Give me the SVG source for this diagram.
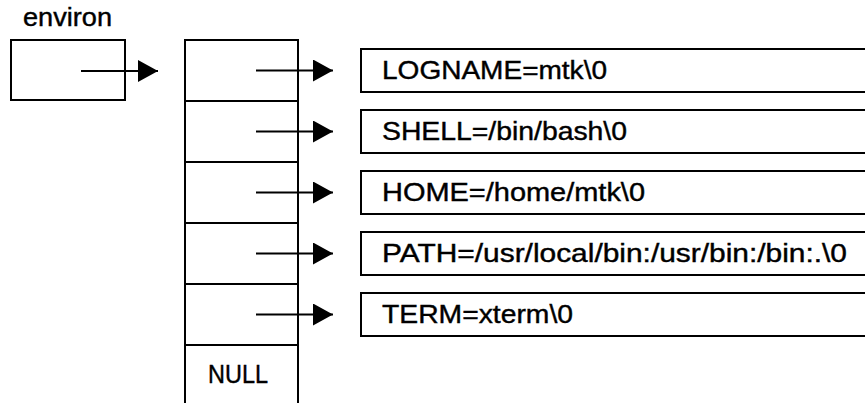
<svg xmlns="http://www.w3.org/2000/svg" width="865" height="403" viewBox="0 0 865 403">
  <style>
    .box { fill: #ffffff; stroke: #000000; stroke-width: 2; }
    .txt { font-family: "Liberation Sans", Arial, sans-serif; font-size: 25px; fill: #000000; stroke: #000000; stroke-width: 0.4; }
    .conn { stroke: #000000; stroke-width: 2.2; fill: none; }
  </style>
  <defs>
    <marker id="arrow" markerUnits="userSpaceOnUse" markerWidth="21" markerHeight="23" refX="20" refY="11" orient="auto">
      <path d="M0,0 L20,11 L0,22 Z" fill="#000000"/>
    </marker>
  </defs>
  <rect width="865" height="403" fill="#ffffff"/>

  <g id="environ">
    <text class="txt" x="23" y="26" textLength="89" lengthAdjust="spacingAndGlyphs">environ</text>
    <rect class="box" x="11" y="40" width="114" height="60"/>
  </g>

  <g id="array">
    <rect class="box" x="185" y="40" width="113" height="61"/>
    <rect class="box" x="185" y="101" width="113" height="61"/>
    <rect class="box" x="185" y="162" width="113" height="61"/>
    <rect class="box" x="185" y="223" width="113" height="61"/>
    <rect class="box" x="185" y="284" width="113" height="61"/>
    <rect class="box" x="185" y="345" width="113" height="70"/>
    <text class="txt" x="208" y="382.5" textLength="60" lengthAdjust="spacingAndGlyphs">NULL</text>
  </g>

  <g id="str-logname">
    <rect class="box" x="361" y="49" width="520" height="43"/>
    <text class="txt" x="382" y="78.5" textLength="225" lengthAdjust="spacingAndGlyphs">LOGNAME=mtk\0</text>
  </g>
  <g id="str-shell">
    <rect class="box" x="361" y="110" width="520" height="43"/>
    <text class="txt" x="382" y="139.5" textLength="245" lengthAdjust="spacingAndGlyphs">SHELL=/bin/bash\0</text>
  </g>
  <g id="str-home">
    <rect class="box" x="361" y="171" width="520" height="43"/>
    <text class="txt" x="382" y="200.5" textLength="263" lengthAdjust="spacingAndGlyphs">HOME=/home/mtk\0</text>
  </g>
  <g id="str-path">
    <rect class="box" x="361" y="232" width="520" height="43"/>
    <text class="txt" x="382" y="261.5" textLength="465" lengthAdjust="spacingAndGlyphs">PATH=/usr/local/bin:/usr/bin:/bin:.\0</text>
  </g>
  <g id="str-term">
    <rect class="box" x="361" y="293" width="520" height="43"/>
    <text class="txt" x="382" y="322.5" textLength="191" lengthAdjust="spacingAndGlyphs">TERM=xterm\0</text>
  </g>

  <g id="connectors">
    <line class="conn" x1="81" y1="71" x2="158" y2="71" marker-end="url(#arrow)"/>
    <line class="conn" x1="256" y1="70.5" x2="333" y2="70.5" marker-end="url(#arrow)"/>
    <line class="conn" x1="256" y1="131.5" x2="333" y2="131.5" marker-end="url(#arrow)"/>
    <line class="conn" x1="256" y1="192.5" x2="333" y2="192.5" marker-end="url(#arrow)"/>
    <line class="conn" x1="256" y1="253.5" x2="333" y2="253.5" marker-end="url(#arrow)"/>
    <line class="conn" x1="256" y1="314.5" x2="333" y2="314.5" marker-end="url(#arrow)"/>
  </g>
</svg>
